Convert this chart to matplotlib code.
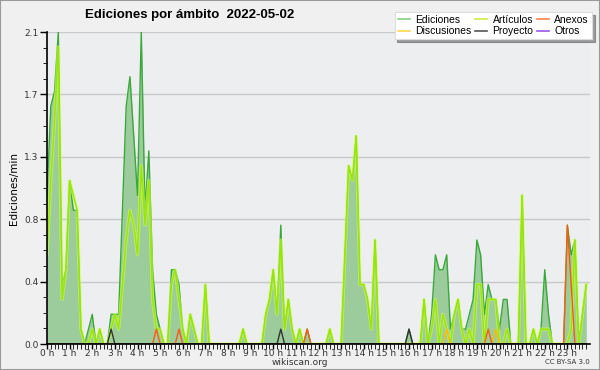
import numpy as np
import matplotlib
matplotlib.use('Agg')
import matplotlib.pyplot as plt
from matplotlib.lines import Line2D
from matplotlib.patches import Rectangle

# ediciones por minuto, en tramos de 10 minutos (144 tramos)
ediciones = [
    1.0, 1.6, 1.7, 2.1, 0.4, 0.5,   1.1, 0.9, 0.9, 0.1, 0.0, 0.1,
    0.2, 0.0, 0.1, 0.0, 0.0, 0.2,   0.2, 0.2, 0.9, 1.6, 1.8, 1.4,
    1.0, 2.1, 0.9, 1.3, 0.5, 0.2,   0.1, 0.0, 0.0, 0.5, 0.5, 0.4,
    0.1, 0.0, 0.2, 0.1, 0.0, 0.0,   0.4, 0.0, 0.0, 0.0, 0.0, 0.0,
    0.0, 0.0, 0.0, 0.0, 0.1, 0.0,   0.0, 0.0, 0.0, 0.0, 0.2, 0.3,
    0.5, 0.2, 0.8, 0.1, 0.3, 0.1,   0.0, 0.1, 0.0, 0.1, 0.0, 0.0,
    0.0, 0.0, 0.0, 0.1, 0.0, 0.0,   0.0, 0.6, 1.2, 1.1, 1.4, 0.4,
    0.4, 0.3, 0.1, 0.7, 0.0, 0.0,   0.0, 0.0, 0.0, 0.0, 0.0, 0.0,
    0.1, 0.0, 0.0, 0.0, 0.3, 0.0,   0.2, 0.6, 0.5, 0.5, 0.6, 0.1,
    0.2, 0.3, 0.1, 0.1, 0.2, 0.3,   0.7, 0.6, 0.2, 0.4, 0.3, 0.3,
    0.1, 0.3, 0.3, 0.0, 0.0, 0.0,   1.0, 0.0, 0.0, 0.1, 0.0, 0.1,
    0.5, 0.2, 0.0, 0.0, 0.0, 0.0,   0.8, 0.6, 0.7, 0.0, 0.2, 0.4,
]
articulos = [
    0.6, 1.1, 1.5, 2.0, 0.3, 0.5,   1.1, 1.0, 0.9, 0.1, 0.0, 0.0,
    0.1, 0.0, 0.1, 0.0, 0.0, 0.1,   0.2, 0.1, 0.4, 0.7, 0.9, 0.8,
    0.6, 1.2, 0.8, 1.1, 0.3, 0.1,   0.1, 0.0, 0.0, 0.4, 0.5, 0.3,
    0.1, 0.0, 0.2, 0.1, 0.0, 0.0,   0.4, 0.0, 0.0, 0.0, 0.0, 0.0,
    0.0, 0.0, 0.0, 0.0, 0.1, 0.0,   0.0, 0.0, 0.0, 0.0, 0.2, 0.3,
    0.5, 0.2, 0.7, 0.1, 0.3, 0.1,   0.0, 0.1, 0.0, 0.0, 0.0, 0.0,
    0.0, 0.0, 0.0, 0.1, 0.0, 0.0,   0.0, 0.6, 1.2, 1.1, 1.4, 0.4,
    0.4, 0.3, 0.1, 0.7, 0.0, 0.0,   0.0, 0.0, 0.0, 0.0, 0.0, 0.0,
    0.0, 0.0, 0.0, 0.0, 0.3, 0.0,   0.1, 0.3, 0.0, 0.2, 0.1, 0.0,
    0.2, 0.3, 0.1, 0.0, 0.1, 0.0,   0.4, 0.4, 0.0, 0.3, 0.3, 0.3,
    0.0, 0.0, 0.1, 0.0, 0.0, 0.0,   1.0, 0.0, 0.0, 0.1, 0.0, 0.1,
    0.1, 0.1, 0.0, 0.0, 0.0, 0.0,   0.0, 0.1, 0.7, 0.0, 0.2, 0.4,
]
# series casi vacias: {tramo: valor}
anexos = {29: 0.1, 35: 0.1, 69: 0.1, 117: 0.1, 138: 0.8, 139: 0.4}
discusiones = {106: 0.1, 119: 0.1}
proyecto = {17: 0.1, 62: 0.1, 96: 0.1}
otros = {}

horas = np.arange(144) / 6.0


def serie(d):
    v = np.zeros(144)
    for k, val in d.items():
        v[k] = val
    return v


fig = plt.figure(figsize=(6, 3.7), dpi=100, facecolor='#f0f0f0')
ax = fig.add_axes([47 / 600, 1 - 344 / 370, 543 / 600, 312 / 370])
ax.set_facecolor('#eceef0')

ax.fill_between(horas, ediciones, color='#9ccb9c', lw=0, zorder=2)
ax.plot(horas, ediciones, color='#3aa83a', lw=1.0, zorder=3)
ax.plot(horas, articulos, color='#ccff55', lw=2.4, alpha=0.6, zorder=4)
ax.plot(horas, articulos, color='#99e600', lw=1.0, zorder=5)
ax.plot(horas, serie(discusiones), color='#ffbb00', lw=1.0, zorder=6)
ax.plot(horas, serie(anexos), color='#ff5a10', lw=1.0, zorder=7)
ax.plot(horas, serie(proyecto), color='#333333', lw=1.0, zorder=8)
ax.plot(horas, serie(otros), color='#9955ee', lw=1.0, zorder=6)

ymax = 2.1
ax.set_ylim(0, ymax)
ax.set_xlim(0, 24)
yt = np.linspace(0, ymax, 6)
ax.set_yticks(yt)
ax.set_yticklabels(['%.1f' % v for v in yt])
ax.set_yticks(np.linspace(0, ymax, 21), minor=True)
ax.set_xticks(range(24))
ax.set_xticklabels(['%d h' % h for h in range(24)])
ax.set_xticks(np.arange(0, 24, 1 / 6), minor=True)
ax.grid(axis='y', color='#c8c8c8', lw=1, zorder=1)
ax.tick_params(axis='both', labelsize=6.5, colors='black', labelcolor='#333333',
               width=1, pad=1)
ax.tick_params(axis='y', which='major', length=5)
ax.tick_params(axis='y', which='minor', length=3)
ax.tick_params(axis='x', which='both', length=3.5, pad=0.3)
for s in ['top', 'right']:
    ax.spines[s].set_visible(False)
for s in ['left', 'bottom']:
    ax.spines[s].set_linewidth(1.2)
    ax.spines[s].set_zorder(10)

ax.set_ylabel('Ediciones/min', fontsize=7.5, labelpad=4)

fig.text(85 / 600, 1 - 15 / 370, 'Ediciones por ámbito  2022-05-02',
         fontsize=9.5, fontweight='bold', family='Liberation Sans',
         va='center', ha='left')
fig.text(300 / 600, 1 - 362.5 / 370, 'wikiscan.org', fontsize=6.5,
         color='#333333', ha='center', va='center')
fig.text(590 / 600, 1 - 362.5 / 370, 'CC BY-SA 3.0', fontsize=5,
         color='#333333', ha='right', va='center')

nombres = ['Ediciones', 'Discusiones', 'Artículos', 'Proyecto', 'Anexos', 'Otros']
colores = ['#88d088', '#ffd84d', '#ccee44', '#555555', '#ff7f50', '#9955ee']
handles = [Line2D([], [], color=c, lw=1.2) for c in colores]
leg = fig.legend(handles, nombres, ncol=3, loc='upper right',
                 bbox_to_anchor=(592 / 600, 1 - 12 / 370), borderaxespad=0,
                 prop={'family': 'Liberation Sans', 'size': 7.5},
                 frameon=True, shadow=True, fancybox=False,
                 handlelength=1.2, handletextpad=0.5, columnspacing=0.3,
                 labelspacing=0.1, borderpad=0.3)
leg.get_frame().set_edgecolor('#dddddd')
leg.get_frame().set_linewidth(0.8)

fig.patches.append(Rectangle((0, 0), 1, 1, transform=fig.transFigure,
                             fill=False, edgecolor='#9a9a9a', lw=1.5))

fig.savefig('out.png', dpi=100, facecolor=fig.get_facecolor())
